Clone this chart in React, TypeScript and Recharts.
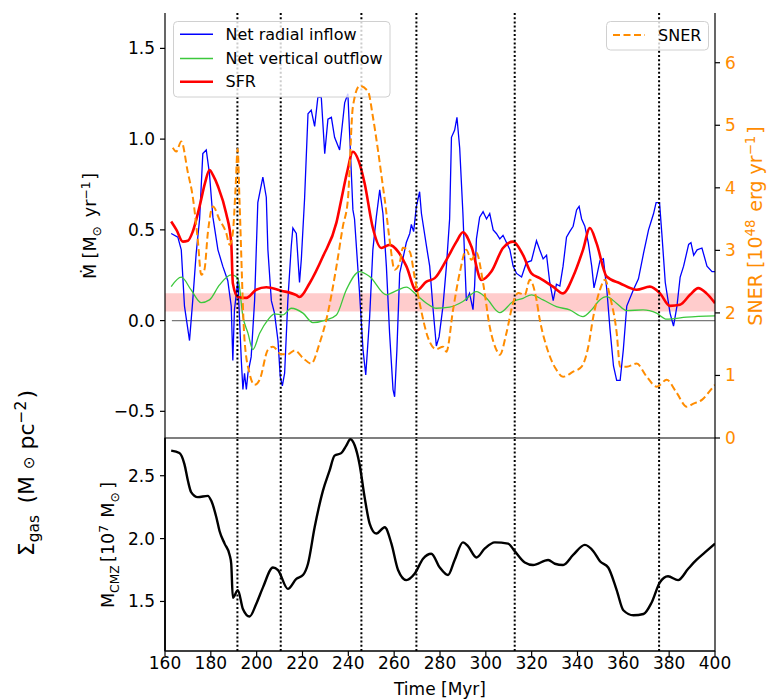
import React from 'react';
import { ComposedChart, Line, XAxis, YAxis, ReferenceLine, ReferenceArea } from 'recharts';

const FONT = '"DejaVu Sans", Verdana, sans-serif';

// ---- tick labels / axis settings ----
const timeTicks = [160, 180, 200, 220, 240, 260, 280, 300, 320, 340, 360, 380, 400];
const inflowTicks = [-0.5, 0, 0.5, 1, 1.5];
const snerTicks = [0, 1, 2, 3, 4, 5, 6];
const massTicks = [1.5, 2, 2.5];
const eventTimes = [191.6, 210.5, 245.7, 269.7, 312.6, 375.6];
const sfrBand = [0.05, 0.15];
const zeroLine: [number, number][] = [[163, 0], [400, 0]];

// ---- series: [time Myr, value] ----
const inflow: [number, number][] = [
  [162.7, 0.48], [165.6, 0.46], [167.1, 0.39], [168.5, 0.08], [170.7, -0.11], [172.1, 0.11], [173.6, 0.37],
  [175.1, 0.56], [176.5, 0.92], [178.0, 0.94], [179.4, 0.81], [180.2, 0.68], [180.9, 0.57], [183.1, 0.39],
  [185.2, 0.30], [187.4, 0.22], [188.9, 0.08], [189.6, -0.22], [190.3, 0.06], [191.8, 0.22], [193.3, -0.22],
  [194.0, -0.38], [194.7, -0.29], [195.5, -0.38], [196.2, -0.29], [197.6, -0.20], [199.1, 0.11], [200.5, 0.65],
  [202.7, 0.79], [204.2, 0.68], [204.9, 0.39], [206.4, 0.11], [207.8, 0.04], [209.3, -0.11], [210.3, -0.31],
  [211.2, -0.36], [212.2, -0.29], [213.6, 0.11], [215.1, 0.41], [215.8, 0.51], [217.3, 0.48], [218.7, 0.21],
  [219.5, 0.34], [220.9, 0.67], [222.4, 1.14], [223.8, 1.16], [225.3, 1.07], [226.7, 1.23], [228.2, 1.23],
  [229.7, 0.92], [231.1, 1.11], [232.6, 1.12], [234.0, 1.01], [236.2, 0.94], [238.4, 1.20], [239.8, 1.25],
  [240.6, 1.02], [242.0, 0.61], [242.7, 0.56], [244.9, 0.15], [246.4, -0.16], [247.6, -0.30], [249.3, 0.02],
  [250.7, 0.39], [252.2, 0.57], [253.7, 0.72], [255.1, 0.59], [256.6, 0.30], [258.0, -0.07], [259.5, -0.38],
  [260.2, -0.42], [261.2, -0.16], [262.4, 0.26], [263.8, 0.34], [265.3, 0.43], [266.8, 0.48], [267.5, 0.53],
  [268.5, 0.49], [269.7, 0.63], [271.1, 0.71], [271.9, 0.59], [274.1, 0.41], [275.5, 0.30], [277.0, 0.06],
  [278.4, -0.14], [279.6, -0.09], [281.3, 0.08], [282.8, 0.30], [284.2, 0.56], [285.0, 1.01], [286.4, 1.05],
  [287.4, 1.12], [288.6, 0.95], [290.0, 0.59], [291.5, 0.11], [292.9, 0.15], [294.4, 0.06], [295.1, 0.19],
  [295.9, 0.45], [297.3, 0.57], [298.8, 0.60], [300.3, 0.56], [301.7, 0.59], [303.2, 0.50], [304.6, 0.48],
  [306.1, 0.45], [307.5, 0.47], [309.0, 0.43], [310.5, 0.39], [311.9, 0.30], [313.4, 0.26], [315.6, 0.24],
  [317.7, 0.32], [319.9, 0.33], [322.1, 0.44], [323.5, 0.39], [325.0, 0.34], [326.5, 0.36], [327.9, 0.21],
  [329.4, 0.11], [330.8, 0.20], [332.3, 0.19], [333.7, 0.30], [335.2, 0.46], [336.6, 0.49], [338.1, 0.52],
  [339.6, 0.61], [340.7, 0.63], [341.8, 0.56], [343.2, 0.52], [344.7, 0.43], [346.2, 0.30], [347.2, 0.18],
  [348.3, 0.24], [349.8, 0.33], [351.3, 0.34], [352.8, 0.17], [354.2, -0.05], [355.7, -0.25], [357.1, -0.33],
  [358.6, -0.33], [360.0, -0.16], [361.5, 0.08], [364.4, 0.17], [366.6, 0.23], [368.8, 0.37], [371.0, 0.50],
  [373.2, 0.59], [374.3, 0.65], [375.8, 0.65], [376.8, 0.48], [378.3, 0.21], [380.4, 0.04], [381.9, -0.03],
  [383.4, 0.08], [384.8, 0.24], [386.3, 0.30], [388.5, 0.42], [389.5, 0.43], [390.7, 0.36], [392.2, 0.39],
  [394.3, 0.40], [396.5, 0.30], [398.7, 0.27], [400, 0.27],
];

const outflow: [number, number][] = [
  [162.7, 0.187], [167.1, 0.239], [171.4, 0.169], [175.8, 0.099], [179.4, 0.114], [183.8, 0.197], [188.9, 0.252],
  [191.8, 0.234], [194.0, 0.022], [196.2, -0.069], [198.3, -0.16], [201.3, -0.07], [204.9, 0.004], [207.8, 0.037],
  [211.4, 0.031], [215.1, 0.068], [220.2, 0.041], [224.5, -0.011], [230.4, 0.004], [234.8, 0.031], [239.1, 0.169],
  [244.9, 0.27], [249.3, 0.243], [256.6, 0.142], [261.0, 0.165], [265.3, 0.184], [269.7, 0.142], [274.1, 0.096],
  [278.4, 0.068], [284.2, 0.074], [290.0, 0.105], [295.9, 0.16], [300.3, 0.123], [306.1, 0.044], [311.9, 0.105],
  [316.2, 0.123], [319.9, 0.142], [325.0, 0.114], [330.8, 0.077], [336.6, 0.059], [342.4, 0.022], [346.1, 0.059],
  [349.7, 0.114], [352.7, 0.132], [357.0, 0.096], [361.4, 0.055], [368.6, 0.059], [374.5, 0.041], [378.9, 0.008],
  [387.6, 0.019], [400, 0.026],
];

const sfr: [number, number][] = [
  [162.7, 0.546], [165.0, 0.50], [167.8, 0.435], [170.0, 0.44], [172.1, 0.49], [175.1, 0.63], [177.5, 0.76],
  [179.4, 0.83], [181.0, 0.80], [183.1, 0.74], [186.7, 0.59], [188.9, 0.43], [189.6, 0.206], [191.8, 0.13],
  [195.5, 0.125], [199.8, 0.17], [204.2, 0.184], [210.7, 0.165], [217.3, 0.14], [218.7, 0.13], [223.1, 0.206],
  [228.9, 0.353], [234.8, 0.54], [236.9, 0.665], [239.5, 0.82], [242.0, 0.93], [244.5, 0.88], [247.1, 0.757],
  [250.7, 0.51], [254.4, 0.40], [258.0, 0.417], [261.7, 0.38], [265.3, 0.30], [269.7, 0.165], [274.1, 0.215],
  [277.7, 0.234], [282.8, 0.335], [287.2, 0.435], [290.0, 0.487], [293.7, 0.408], [298.1, 0.224], [302.4, 0.27],
  [307.5, 0.40], [311.9, 0.435], [316.2, 0.362], [319.9, 0.26], [323.5, 0.234], [329.3, 0.187], [333.7, 0.15],
  [338.1, 0.243], [342.4, 0.39], [345.4, 0.51], [348.3, 0.427], [352.7, 0.243], [358.5, 0.206], [365.8, 0.17],
  [371.6, 0.187], [376.0, 0.15], [380.3, 0.081], [384.7, 0.087], [389.1, 0.142], [392.7, 0.179], [396.3, 0.15],
  [400, 0.096],
];

const sner: [number, number][] = [
  [163.4, 4.64], [164.9, 4.58], [167.1, 4.74], [170.0, 4.24], [172.1, 3.86], [174.3, 3.17], [175.8, 2.61],
  [177.2, 2.69], [178.7, 3.28], [180.9, 3.70], [183.8, 3.49], [186.7, 3.28], [188.2, 3.09], [189.6, 3.28],
  [190.8, 4.0], [191.7, 4.62], [192.5, 3.81], [194.7, 1.57], [196.9, 1.03], [199.1, 0.85], [201.3, 0.93],
  [204.9, 1.41], [207.1, 1.46], [210.7, 1.34], [213.6, 1.34], [216.6, 1.40], [220.2, 1.28], [223.8, 1.19],
  [227.5, 1.52], [230.4, 1.89], [234.8, 2.74], [237.6, 3.38], [239.8, 3.81], [242.0, 5.30], [244.9, 5.63],
  [248.6, 5.54], [250.7, 5.14], [252.9, 4.61], [255.1, 4.02], [255.9, 3.81], [258.0, 3.17], [260.2, 2.69],
  [262.4, 2.80], [263.8, 3.04], [266.8, 2.98], [268.9, 2.58], [271.1, 2.16], [274.8, 1.60], [278.4, 1.42],
  [281.3, 1.46], [282.8, 1.38], [285.7, 2.05], [288.6, 2.64], [291.5, 3.01], [293.7, 2.85], [295.9, 2.96],
  [298.8, 2.48], [301.7, 1.78], [304.6, 1.41], [306.1, 1.33], [309.0, 1.68], [311.9, 2.16], [314.1, 2.32],
  [317.0, 2.29], [319.2, 2.53], [322.1, 2.21], [323.5, 1.9], [326.5, 1.46], [330.8, 1.09], [333.7, 0.98],
  [338.1, 1.06], [341.8, 1.14], [344.7, 1.46], [346.9, 1.94], [349.8, 2.37], [352.0, 2.53], [354.2, 2.26],
  [357.1, 1.68], [358.6, 1.14], [361.5, 1.14], [365.8, 1.19], [370.2, 0.98], [374.6, 0.82], [378.9, 0.93],
  [383.3, 0.72], [387.7, 0.50], [390.6, 0.55], [394.3, 0.61], [398.6, 0.79], [400, 0.85],
];

const massCMZ: [number, number][] = [
  [162.7, 2.70], [166.3, 2.68], [168.5, 2.59], [170.0, 2.46], [171.4, 2.37], [174.3, 2.33], [178.7, 2.34],
  [180.2, 2.30], [182.4, 2.17], [183.8, 2.06], [186.0, 1.96], [188.2, 1.87], [188.9, 1.80], [189.6, 1.53],
  [191.8, 1.59], [194.0, 1.44], [196.9, 1.38], [199.8, 1.48], [202.7, 1.61], [207.1, 1.77], [209.3, 1.75],
  [213.6, 1.60], [217.3, 1.68], [220.2, 1.71], [222.4, 1.80], [225.3, 2.09], [228.9, 2.38], [231.8, 2.54],
  [234.0, 2.66], [236.9, 2.68], [239.1, 2.74], [240.9, 2.79], [242.8, 2.74], [244.9, 2.59], [247.1, 2.33],
  [249.3, 2.12], [252.2, 2.04], [255.9, 2.09], [258.8, 1.96], [261.7, 1.75], [265.3, 1.67], [268.9, 1.72],
  [272.6, 1.84], [276.2, 1.88], [279.9, 1.77], [283.5, 1.71], [286.4, 1.83], [290.0, 1.97], [292.2, 1.94],
  [295.9, 1.85], [299.5, 1.92], [303.9, 1.97], [309.7, 1.96], [312.6, 1.90], [317.0, 1.81], [320.6, 1.79],
  [327.2, 1.83], [330.1, 1.80], [333.7, 1.79], [338.1, 1.87], [343.2, 1.95], [346.9, 1.90], [349.8, 1.82],
  [353.4, 1.77], [357.1, 1.59], [360.0, 1.43], [364.4, 1.39], [368.8, 1.40], [372.3, 1.49], [375.9, 1.65],
  [379.5, 1.70], [383.9, 1.67], [388.3, 1.76], [391.9, 1.83], [395.6, 1.89], [400, 1.96],
];

const rows = (pairs: [number, number][]) => pairs.map(([t, v]) => ({ t, v }));

const W = 777;
const tickStyle = { fontSize: 17, fill: '#000', fontFamily: FONT };
const axisStroke = { stroke: '#000', strokeWidth: 1.2 };
const fmt1 = (v: number) => v.toFixed(1).replace('-', '\u2212');

const BLUE = '#0000ff';
const GREEN = '#3cc83c';
const RED = '#ff0000';
const ORANGE = '#ff8c00';

const massDomain: [number, number] = [1.106, 2.8];

function TopChart() {
  return (
    <ComposedChart width={W} height={438} margin={{ top: 13, right: 62, bottom: 0, left: 0 }}>
      <XAxis type="number" dataKey="t" domain={[160, 400]} orientation="top" height={0}
        tick={false} tickLine={false} axisLine={axisStroke} allowDataOverflow />
      <YAxis type="number" domain={[-0.647, 1.695]} ticks={inflowTicks} interval={0} width={165}
        tick={tickStyle} tickFormatter={fmt1} tickSize={5} tickMargin={5}
        tickLine={axisStroke} axisLine={axisStroke} allowDataOverflow />
      <ReferenceArea x1={160} x2={400} y1={sfrBand[0]} y2={sfrBand[1]} fill="#ff0000" fillOpacity={0.2} stroke="none" />
      <Line data={rows(zeroLine)} dataKey="v" stroke="#7a7a7a" strokeWidth={1.3} dot={false} isAnimationActive={false} />
      <Line data={rows(inflow)} dataKey="v" type="linear" stroke={BLUE} strokeWidth={1.3} dot={false} isAnimationActive={false} />
      <Line data={rows(outflow)} dataKey="v" type="monotone" stroke={GREEN} strokeWidth={1.3} dot={false} isAnimationActive={false} />
      <Line data={rows(sfr)} dataKey="v" type="monotone" stroke={RED} strokeWidth={2.6} dot={false} isAnimationActive={false} />
      {eventTimes.map((t) => (
        <ReferenceLine key={t} x={t} stroke="#000" strokeWidth={2} strokeDasharray="2 2.2" />
      ))}
    </ComposedChart>
  );
}

function SnerChart() {
  return (
    <ComposedChart width={W} height={462} margin={{ top: 13, right: 0, bottom: 24, left: 165 }}>
      <XAxis type="number" dataKey="t" domain={[160, 400]} hide allowDataOverflow />
      <YAxis orientation="right" type="number" domain={[0, 6.795]} ticks={snerTicks} interval={0} width={62}
        tick={{ ...tickStyle, fill: ORANGE }} tickSize={5} tickMargin={5}
        tickLine={axisStroke} axisLine={axisStroke} allowDataOverflow />
      <Line data={rows(sner)} dataKey="v" type="monotone" stroke={ORANGE} strokeWidth={2}
        strokeDasharray="7 3.5" dot={false} isAnimationActive={false} />
    </ComposedChart>
  );
}

function MassChart() {
  return (
    <ComposedChart width={W} height={270} margin={{ top: 8, right: 62, bottom: 0, left: 0 }} data={rows(massCMZ)}>
      <XAxis type="number" dataKey="t" domain={[160, 400]} ticks={timeTicks} interval={0} height={49}
        tick={tickStyle} tickSize={5} tickMargin={1} tickLine={axisStroke} axisLine={axisStroke} allowDataOverflow />
      <YAxis type="number" domain={massDomain} ticks={massTicks} interval={0} width={165}
        tick={tickStyle} tickFormatter={fmt1} tickSize={5} tickMargin={5}
        tickLine={axisStroke} axisLine={axisStroke} allowDataOverflow />
      <ReferenceArea x1={160} x2={400} y1={massDomain[0]} y2={massDomain[1]} fill="none" stroke="#000" strokeWidth={1.2} ifOverflow="visible" />
      {eventTimes.map((t) => (
        <ReferenceLine key={t} x={t} stroke="#000" strokeWidth={2} strokeDasharray="2 2.2" />
      ))}
      <Line dataKey="v" type="monotone" stroke="#000" strokeWidth={2.4} dot={false} isAnimationActive={false} />
    </ComposedChart>
  );
}

const abs = (top: number): React.CSSProperties => ({ position: 'absolute', left: 0, top });

function LeftLegend() {
  const items = [
    { label: 'Net radial inflow', color: BLUE, w: 1.5, y: 34.3 },
    { label: 'Net vertical outflow', color: GREEN, w: 1.5, y: 58.5 },
    { label: 'SFR', color: RED, w: 2.6, y: 81.7 },
  ];
  return (
    <svg width={W} height={120} style={{ ...abs(0), pointerEvents: 'none' }}>
      <rect x={173.5} y={21.5} width={216.5} height={75.5} rx={4} fill="#fff" fillOpacity={0.8} stroke="#d0d0d0" strokeWidth={1} />
      {items.map((it) => (
        <g key={it.label}>
          <line x1={180} x2={213} y1={it.y} y2={it.y} stroke={it.color} strokeWidth={it.w} />
          <text x={225.5} y={it.y} dy="0.36em" fontFamily={FONT} fontSize={16} fill="#000">{it.label}</text>
        </g>
      ))}
    </svg>
  );
}

function Overlay() {
  const sub = (s: string, fs: number) => [
    <tspan key="a" dy={fs * 0.25} fontSize={fs * 0.7}>{s}</tspan>,
    <tspan key="b" dy={-fs * 0.25} fontSize={fs}>{'\u2009'}</tspan>,
  ];
  const sup = (s: string, fs: number) => [
    <tspan key="c" dy={-fs * 0.38} fontSize={fs * 0.7}>{s}</tspan>,
    <tspan key="d" dy={fs * 0.38} fontSize={fs}>{'\u200a'}</tspan>,
  ];
  return (
    <svg width={W} height={700} style={{ ...abs(0), pointerEvents: 'none' }}>
      {/* lower-panel left frame edge */}
      <line x1={165} x2={165} y1={438} y2={651} stroke="#000" strokeWidth={1.3} />
      {/* right legend */}
      <rect x={606.5} y={21.5} width={102} height={28.5} rx={4} fill="#fff" fillOpacity={0.8} stroke="#d0d0d0" strokeWidth={1} />
      <line x1={613} x2={645} y1={35} y2={35} stroke={ORANGE} strokeWidth={2} strokeDasharray="7 3.5" />
      <text x={658} y={35} dy="0.36em" fontFamily={FONT} fontSize={16} fill="#000">SNER</text>

      {/* left axis title, top panel */}
      <text transform="translate(90,226) rotate(-90)" textAnchor="middle" dy="0.36em" fontFamily={FONT} fontSize={17.5} fill="#000">
        <tspan>{'\u1E40 [M'}</tspan>{sub('\u2299', 17.5)}<tspan>{' yr'}</tspan>{sup('\u22121', 17.5)}<tspan>]</tspan>
      </text>
      {/* left axis title, bottom panel */}
      <text transform="translate(108,545) rotate(-90)" textAnchor="middle" dy="0.36em" fontFamily={FONT} fontSize={17.5} fill="#000">
        <tspan>M</tspan>{sub('CMZ', 17.5)}<tspan>{'[10'}</tspan>{sup('7', 17.5)}<tspan>{' M'}</tspan>{sub('\u2299', 17.5)}<tspan>]</tspan>
      </text>
      {/* big stray label */}
      <text transform="translate(26,473) rotate(-90)" textAnchor="middle" dy="0.36em" fontFamily={FONT} fontSize={22} fill="#000">
        <tspan>{'\u03A3'}</tspan>{sub('gas', 22)}<tspan>{' (M '}</tspan><tspan fontSize={15}>{'\u2299'}</tspan><tspan>{'  pc'}</tspan>{sup('\u22122', 22)}<tspan>)</tspan>
      </text>
      {/* right axis title */}
      <text transform="translate(755,226) rotate(-90)" textAnchor="middle" dy="0.36em" fontFamily={FONT} fontSize={19} fill={ORANGE}>
        <tspan>{'SNER [10'}</tspan>{sup('48', 19)}<tspan>{' erg yr'}</tspan>{sup('\u22121', 19)}<tspan>]</tspan>
      </text>
      {/* x axis title */}
      <text x={440} y={689} textAnchor="middle" dy="0.36em" fontFamily={FONT} fontSize={17} fill="#000">Time [Myr]</text>
    </svg>
  );
}

export default function App() {
  return (
    <div style={{ position: 'absolute', left: 0, top: 0, width: W, height: 700, background: '#fff', overflow: 'hidden' }}>
      <div style={abs(0)}><TopChart /></div>
      <LeftLegend />
      <div style={abs(0)}><SnerChart /></div>
      <div style={abs(430)}><MassChart /></div>
      <Overlay />
    </div>
  );
}
